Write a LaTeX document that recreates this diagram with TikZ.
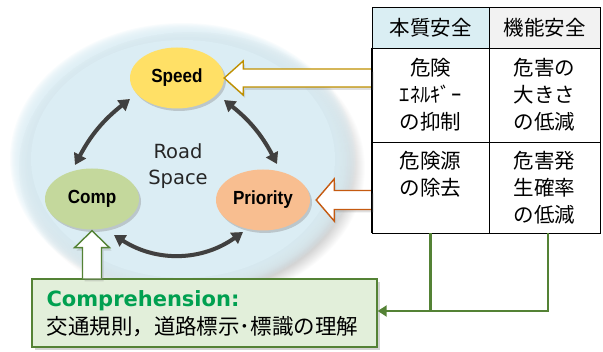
\documentclass[tikz,border=0pt]{standalone}
\usepackage{fontspec}
\setmainfont{Liberation Sans}
\newfontfamily\narrowsans[FakeStretch=0.9]{Liberation Sans}
\newfontfamily\cjk{Noto Sans CJK JP}
\newfontfamily\dvs{DejaVu Sans}
\usetikzlibrary{shapes.geometric,arrows.meta,calc,shadows}
\definecolor{bgblue}{HTML}{DBEDF4}
\definecolor{speedc}{HTML}{FFE066}
\definecolor{compc}{HTML}{C4D89C}
\definecolor{prioc}{HTML}{F8BE90}
\definecolor{hdrblue}{HTML}{DAEEF3}
\definecolor{hdrgray}{HTML}{F2F2F2}
\definecolor{boxfill}{HTML}{E2EFDA}
\definecolor{grn}{HTML}{548235}
\definecolor{gold}{HTML}{BF9000}
\definecolor{orng}{HTML}{C55A11}
\definecolor{darkg}{HTML}{404040}
\definecolor{beige}{HTML}{E6E2D2}
\definecolor{txtgreen}{RGB}{0,160,80}
\begin{document}
\begin{tikzpicture}[x=1pt,y=-1pt,
  oval/.style={ellipse,minimum width=94,minimum height=61,inner sep=0,
    font=\narrowsans\fontsize{19}{22}\selectfont\bfseries,
    drop shadow={opacity=0.35,shadow xshift=2pt,shadow yshift=-2.5pt}},
  dbl/.style={line width=4pt,darkg,{Triangle[length=11pt,width=13pt]}-{Triangle[length=11pt,width=13pt]}},
  dblsh/.style={line width=4pt,beige,{Triangle[length=11pt,width=13pt]}-{Triangle[length=11pt,width=13pt]},xshift=2.5pt,yshift=-2.5pt},
  hollow/.style={fill=white,line width=1.4pt,line join=miter,
    drop shadow={opacity=0.25,shadow xshift=2pt,shadow yshift=-3pt}},
  cell/.style={draw=black,line width=0.9pt,inner sep=0,align=center,
    font=\cjk\fontsize{20.5}{27}\selectfont},
  gl/.style={draw=grn,line width=2.4pt},
]
\useasboundingbox (0,0) rectangle (603,352);
% soft background ellipse with shadow
\foreach \i in {0,...,19}{
  \fill[black,fill opacity=0.012] (192,168) ellipse [x radius=173-\i, y radius=136-0.8*\i];
}
\foreach \i in {0,...,19}{
  \fill[bgblue,fill opacity=0.14] (183,159) ellipse [x radius=173-\i, y radius=136-0.8*\i];
}
\fill[bgblue] (183,159) ellipse [x radius=152, y radius=119];

% ellipses
\node[oval,fill=speedc] (speed) at (177,78) {Speed};
\node[oval,fill=compc] (comp) at (92,199) {Comp};
\node[oval,fill=prioc] (prio) at (263,200) {Priority};
\node[align=center,font=\dvs\fontsize{19.5}{26}\selectfont,text=black!85] (road) at (178,166) {Road\\Space};

% double arrows
\draw[dblsh] ($(speed.center)+(-47,21)$) to[bend right=12] ($(comp.center)+(-17,-34)$);
\draw[dbl] ($(speed.center)+(-47,21)$) to[bend right=12] ($(comp.center)+(-17,-34)$);
\draw[dblsh] ($(speed.center)+(47,22)$) to[bend left=12] ($(prio.center)+(14,-36)$);
\draw[dbl] ($(speed.center)+(47,22)$) to[bend left=12] ($(prio.center)+(14,-36)$);
\draw[dblsh] ($(comp.center)+(22,36)$) to[bend right=34] ($(prio.center)+(-20,32)$);
\draw[dbl] ($(comp.center)+(22,36)$) to[bend right=34] ($(prio.center)+(-20,32)$);

% comprehension box
\node[draw=grn,line width=1.4pt,fill=boxfill,minimum width=345,minimum height=68,inner sep=0,
  drop shadow={opacity=0.35,shadow xshift=2.5pt,shadow yshift=-3pt}] (cbox) at (204.5,313) {};
\node[anchor=base west,inner sep=0,font=\dvs\bfseries\fontsize{21}{24}\selectfont,text=txtgreen] (ctitle) at ($(cbox.north west)+(15,28)$) {Comprehension:};
\node[anchor=base west,inner sep=0,font=\cjk\fontsize{21.5}{24}\selectfont] (ctext) at ($(cbox.north west)+(15,56)$) {交通規則，道路標示･標識の理解};

% table
\node[cell,fill=hdrblue,minimum width=117,minimum height=41] (h1) at (430.5,27.5) {本質安全};
\node[cell,fill=hdrgray,minimum width=111,minimum height=41] (h2) at (544.5,27.5) {機能安全};
\node[cell,fill=white,minimum width=117,minimum height=94] (c11) at (430.5,95) {危険\\ｴﾈﾙｷﾞｰ\\の抑制};
\node[cell,fill=white,minimum width=111,minimum height=94] (c12) at (544.5,95) {危害の\\大きさ\\の低減};
\node[cell,fill=white,minimum width=117,minimum height=91] (c21) at (430.5,187.5) {危険源\\の除去\\\phantom{危}};
\node[cell,fill=white,minimum width=111,minimum height=91] (c22) at (544.5,187.5) {危害発\\生確率\\の低減};

% hollow arrows
\draw[hollow,draw=gold] let \p1=(speed.east), \p2=(c11.west) in
  (\x2,\y1+9pt) -- (\x1+19pt,\y1+9pt) -- (\x1+19pt,\y1+17pt) -- (\x1,\y1)
  -- (\x1+19pt,\y1-17pt) -- (\x1+19pt,\y1-9pt) -- (\x2,\y1-9pt);
\draw[hollow,draw=orng] let \p1=($(prio.east)+(6,0)$), \p2=(c21.west) in
  (\x2,\y1+9.5pt) -- (\x1+18pt,\y1+9.5pt) -- (\x1+18pt,\y1+21pt) -- (\x1,\y1)
  -- (\x1+18pt,\y1-21pt) -- (\x1+18pt,\y1-9.5pt) -- (\x2,\y1-9.5pt);
\draw[hollow,draw=grn] let \p1=($(comp.south)+(0,1)$), \p2=(cbox.north) in
  (\x1-9.5pt,\y2) -- (\x1-9.5pt,\y1-17pt) -- (\x1-17.5pt,\y1-17pt) -- (\x1,\y1)
  -- (\x1+17.5pt,\y1-17pt) -- (\x1+9.5pt,\y1-17pt) -- (\x1+9.5pt,\y2);
\draw[black,line width=0.9pt] (c11.north west) -- (c21.south west);

% green connectors
\draw[gl] (c21.south) -- ($(c21.south |- cbox.east)+(0,-2)$);
\draw[gl,-{Triangle[length=9pt,width=11pt]}] ($(c22.south)+(3.5,0)$) |- ($(cbox.east)+(0,-2)$);
\end{tikzpicture}
\end{document}
